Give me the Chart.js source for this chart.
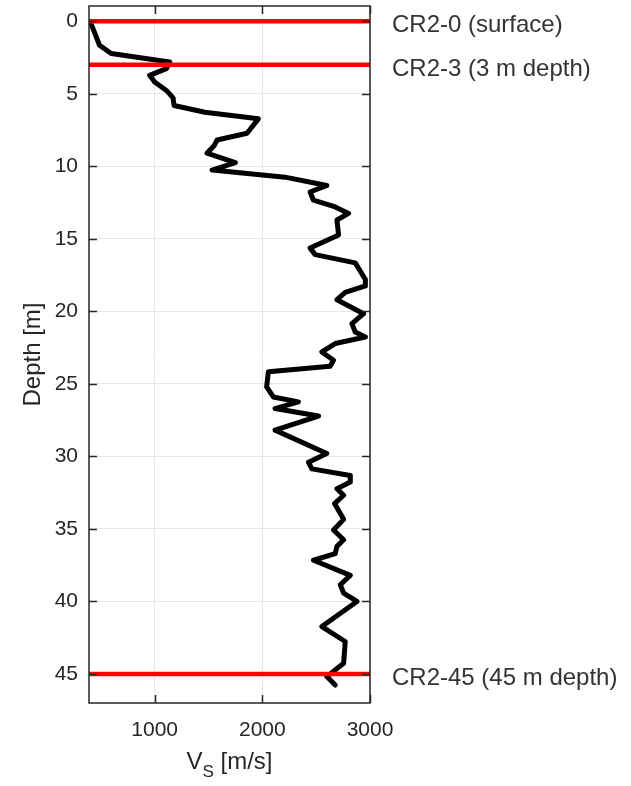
<!DOCTYPE html>
<html>
<head>
<meta charset="utf-8">
<script src="https://cdn.jsdelivr.net/npm/chart.js@4/dist/chart.umd.min.js"></script>
<style>
  html, body { margin: 0; padding: 0; background: #ffffff; }
  #wrap { width: 631px; height: 786px; position: relative; }
</style>
</head>
<body>
<div id="wrap"><canvas id="c" width="631" height="786"></canvas></div>
<script>
// ---- data ----
const depth = [0, 1.66, 2.23, 2.81, 3.27, 3.73, 4.19, 4.77, 5.28, 5.81, 6.27, 6.73, 7.72, 8.19, 8.57, 9.1, 9.75, 10.26, 10.75, 11.32, 11.77, 12.34, 12.8, 13.25, 13.7, 14.73, 15.64, 16.09, 16.66, 17.8, 18.25, 18.7, 19.2, 20.16, 20.85, 21.42, 21.77, 22.22, 22.8, 23.37, 23.78, 24.17, 25.2, 25.9, 26.24, 26.7, 27.22, 28.19, 29.8, 30.41, 30.86, 31.32, 31.77, 32.23, 32.68, 33.25, 34.34, 35.07, 35.75, 36.2, 36.7, 37.16, 38.2, 38.85, 39.42, 40.0, 41.73, 42.76, 44.26, 45.18, 45.76];
const vs = [400, 488, 596, 1140, 1109, 953, 1000, 1109, 1171, 1180, 1466, 1963, 1858, 1579, 1553, 1486, 1749, 1533, 2211, 2599, 2444, 2475, 2677, 2801, 2693, 2708, 2444, 2491, 2863, 2957, 2957, 2770, 2693, 2941, 2832, 2863, 2957, 2677, 2553, 2661, 2630, 2056, 2040, 2102, 2335, 2118, 2522, 2118, 2599, 2429, 2460, 2817, 2817, 2693, 2755, 2671, 2755, 2661, 2755, 2693, 2677, 2475, 2817, 2724, 2755, 2879, 2553, 2770, 2755, 2599, 2677];
const markDepths = [0, 3, 45];
const markLabels = ['CR2-0 (surface)', 'CR2-3 (3 m depth)', 'CR2-45 (45 m depth)'];
const xTicks = [1000, 2000, 3000];
const yTicks = [0, 5, 10, 15, 20, 25, 30, 35, 40, 45];
const xRange = [390, 3000];
const yRange = [-1.05, 47];

const FONT = '"Liberation Sans", Arial, Helvetica, sans-serif';

const profile = depth.map((d, i) => ({ x: vs[i], y: d }));
const markSets = markDepths.map(d => ({
  data: [{ x: xRange[0], y: d }, { x: xRange[1], y: d }],
  borderColor: '#ff0000',
  borderWidth: 4.5,
  pointRadius: 0,
  showLine: true,
  clip: { left: 0, right: 0, top: 4, bottom: 4 },
  order: 0
}));

const decor = {
  id: 'decor',
  afterDraw(chart) {
    const ctx = chart.ctx;
    const a = chart.chartArea;
    const xs = chart.scales.x, ys = chart.scales.y;
    ctx.save();
    // frame
    ctx.strokeStyle = '#262626';
    ctx.lineWidth = 1.5;
    ctx.strokeRect(a.left, a.top, a.right - a.left, a.bottom - a.top);
    // inward tick marks
    const tl = 8;
    ctx.beginPath();
    xTicks.forEach(v => {
      const px = Math.round(xs.getPixelForValue(v)) + 0.5;
      ctx.moveTo(px, a.bottom); ctx.lineTo(px, a.bottom - tl);
      ctx.moveTo(px, a.top); ctx.lineTo(px, a.top + tl);
    });
    yTicks.forEach(v => {
      const py = Math.round(ys.getPixelForValue(v)) + 0.5;
      ctx.moveTo(a.left, py); ctx.lineTo(a.left + tl, py);
      ctx.moveTo(a.right, py); ctx.lineTo(a.right - tl, py);
    });
    ctx.stroke();
    // annotation labels
    ctx.fillStyle = '#333333';
    ctx.font = '24px ' + FONT;
    ctx.textAlign = 'left';
    ctx.textBaseline = 'alphabetic';
    markDepths.forEach((d, i) => {
      ctx.fillText(markLabels[i], a.right + 22, ys.getPixelForValue(d) + 11);
    });
    // x title with subscript
    ctx.fillStyle = '#262626';
    const cx = (a.left + a.right) / 2;
    const base = 769;
    ctx.font = '24px ' + FONT;
    const wV = ctx.measureText('V').width;
    const wRest = ctx.measureText(' [m/s]').width;
    ctx.font = '17px ' + FONT;
    const wS = ctx.measureText('S').width;
    let x0 = cx - (wV + wS + wRest) / 2;
    ctx.font = '24px ' + FONT;
    ctx.fillText('V', x0, base);
    ctx.font = '17px ' + FONT;
    ctx.fillText('S', x0 + wV, base + 8);
    ctx.font = '24px ' + FONT;
    ctx.fillText(' [m/s]', x0 + wV + wS, base);
    // y title
    ctx.translate(40, (a.top + a.bottom) / 2);
    ctx.rotate(-Math.PI / 2);
    ctx.textAlign = 'center';
    ctx.fillText('Depth [m]', 0, 0);
    ctx.restore();
  }
};

new Chart(document.getElementById('c'), {
  type: 'scatter',
  data: {
    datasets: [
      {
        data: profile,
        borderColor: '#000000',
        borderWidth: 5,
        pointRadius: 0,
        showLine: true,
        borderJoinStyle: 'round',
        borderCapStyle: 'round',
        order: 1
      },
      ...markSets
    ]
  },
  options: {
    responsive: false,
    animation: false,
    devicePixelRatio: 1,
    layout: { padding: { top: 6, right: 261, left: 0, bottom: 0 } },
    plugins: { legend: { display: false }, tooltip: { enabled: false } },
    scales: {
      x: {
        type: 'linear',
        min: xRange[0], max: xRange[1],
        afterBuildTicks: s => { s.ticks = xTicks.map(v => ({ value: v })); },
        afterFit: s => { s.height = 83; s.paddingLeft = 0; s.paddingRight = 0; },
        grid: { color: '#e6e6e6', lineWidth: 1, drawTicks: false },
        border: { display: false },
        ticks: { color: '#262626', font: { family: FONT, size: 21 }, padding: 15, maxRotation: 0, autoSkip: false, callback: v => String(v) }
      },
      y: {
        type: 'linear',
        reverse: true,
        min: yRange[0], max: yRange[1],
        afterBuildTicks: s => { s.ticks = yTicks.map(v => ({ value: v })); },
        afterFit: s => { s.width = 89; s.paddingTop = 0; s.paddingBottom = 0; },
        grid: { color: '#e6e6e6', lineWidth: 1, drawTicks: false },
        border: { display: false },
        ticks: { color: '#262626', font: { family: FONT, size: 21 }, padding: 11, autoSkip: false, callback: v => String(v) }
      }
    }
  },
  plugins: [decor]
});
</script>
</body>
</html>
